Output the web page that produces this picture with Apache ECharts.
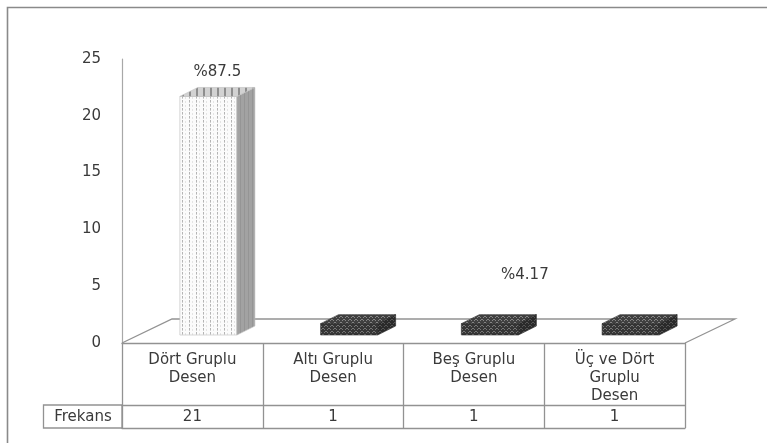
<!DOCTYPE html>
<html>
<head>
<meta charset="utf-8">
<script src="https://cdn.jsdelivr.net/npm/echarts@6/dist/echarts.min.js"></script>
<style>
  html, body { margin: 0; padding: 0; background: #fff; }
  #chart { width: 767px; height: 443px; }
</style>
</head>
<body>
<div id="chart"></div>
<script>
// Pattern groups and how often each appeared
const categories = ['Dört Gruplu\nDesen', 'Altı Gruplu\nDesen', 'Beş Gruplu\nDesen', 'Üç ve Dört\nGruplu\nDesen'];
const frequencies = [21, 1, 1, 1];
const tableRowTitle = 'Frekans';
// which bars carry a percentage label
const labelledBars = [0, 2];
const yTicks = [0, 5, 10, 15, 20, 25];

const total = frequencies.reduce((a, b) => a + b, 0);
const percentText = v => '%' + String(Math.round(v / total * 10000) / 100);

// --- drawing setup ---
const FONT = 'DejaVu Sans';
const FONT_SIZE = 15;
const TEXT = '#3a3a3a';
const LINE = '#929292';
const GRID = { left: 122, right: 82, top: 59, bottom: 100 };
const FLOOR_DEPTH = [50, -24];   // receding offset of the floor
const BAR_SHIFT = [16, -8];      // bar placement inside the floor depth
const BAR_DEPTH = [18, -9];      // thickness of each 3D bar
const BAR_WIDTH_RATIO = 0.405;
// label nudges per bar (second label is placed off to the side)
const labelNudge = { 0: [0, 0], 2: [26, -25] };

function makePattern(w, h, draw) {
  const c = document.createElement('canvas');
  c.width = w; c.height = h;
  draw(c.getContext('2d'));
  return { image: c, repeat: 'repeat' };
}

// light bar: white with dotted vertical stripes
const lightFront = makePattern(7, 4, g => {
  g.fillStyle = '#fbfbfb'; g.fillRect(0, 0, 7, 4);
  g.fillStyle = '#b4b4b4'; g.fillRect(0, 0, 1, 2);
  g.fillStyle = '#d0d0d0'; g.fillRect(0, 2, 1, 1);
  g.fillStyle = '#e4e4e4'; g.fillRect(3, 1, 1, 2);
});
const lightSide = makePattern(4, 4, g => {
  g.fillStyle = '#a2a2a2'; g.fillRect(0, 0, 4, 4);
  g.fillStyle = '#959595'; g.fillRect(0, 0, 1, 4);
});
const lightTop = makePattern(7, 4, g => {
  g.fillStyle = '#d2d2d2'; g.fillRect(0, 0, 7, 4);
  g.fillStyle = '#8e8e8e'; g.fillRect(0, 0, 2, 4);
});
// dark bars: charcoal with a honeycomb of lighter dots
function darkPattern(bg, dot) {
  return makePattern(6, 6, g => {
    g.fillStyle = bg; g.fillRect(0, 0, 6, 6);
    g.fillStyle = dot;
    g.fillRect(1, 1, 2, 1); g.fillRect(4, 4, 2, 1);
    g.fillRect(0, 2, 1, 1); g.fillRect(3, 2, 1, 1);
    g.fillRect(3, 5, 1, 1); g.fillRect(0, 5, 1, 1);
  });
}
const darkFront = darkPattern('#363636', '#767676');
const darkSide = darkPattern('#2a2a2a', '#555');
const darkTop = darkPattern('#404040', '#858585');

const barFaces = idx => idx === 0
  ? { front: lightFront, side: lightSide, top: lightTop, stroke: '#bdbdbd' }
  : { front: darkFront, side: darkSide, top: darkTop, stroke: '#2a2a2a' };

function renderFloor(params, api) {
  const band = api.size([1, 0])[0];
  const a = api.coord([0, 0]);
  const b = api.coord([categories.length - 1, 0]);
  const x0 = a[0] - band / 2, x1 = b[0] + band / 2, y = a[1];
  return {
    type: 'polyline',
    shape: { points: [[x0, y], [x0 + FLOOR_DEPTH[0], y + FLOOR_DEPTH[1]],
                      [x1 + FLOOR_DEPTH[0], y + FLOOR_DEPTH[1]], [x1, y]] },
    style: { stroke: LINE, lineWidth: 1.3, fill: null },
    silent: true
  };
}

function renderBar(params, api) {
  const idx = api.value(0);
  const v = api.value(1);
  const band = api.size([1, 0])[0];
  const base = api.coord([idx, 0]);
  const top = api.coord([idx, v]);
  const w = band * BAR_WIDTH_RATIO;
  const x0 = base[0] + BAR_SHIFT[0] - w / 2, x1 = x0 + w;
  const yb = base[1] + BAR_SHIFT[1], yt = top[1] + BAR_SHIFT[1];
  const [dx, dy] = BAR_DEPTH;
  const f = barFaces(idx);
  const children = [
    { type: 'rect', shape: { x: x0, y: yt, width: w, height: yb - yt },
      style: { fill: f.front, stroke: f.stroke, lineWidth: 0.6 } },
    { type: 'polygon', shape: { points: [[x1, yb], [x1 + dx, yb + dy], [x1 + dx, yt + dy], [x1, yt]] },
      style: { fill: f.side, stroke: f.stroke, lineWidth: 0.6 } },
    { type: 'polygon', shape: { points: [[x0, yt], [x0 + dx, yt + dy], [x1 + dx, yt + dy], [x1, yt]] },
      style: { fill: f.top, stroke: f.stroke, lineWidth: 0.6 } }
  ];
  if (labelledBars.indexOf(idx) >= 0) {
    const n = labelNudge[idx] || [0, 0];
    children.push({
      type: 'text',
      x: (x0 + x1) / 2 + dx / 2 + n[0],
      y: yt + dy - 15 + n[1],
      style: { text: percentText(v), fill: TEXT, font: FONT_SIZE + 'px "' + FONT + '"',
               align: 'center', verticalAlign: 'middle' }
    });
  }
  return { type: 'group', children };
}

const chart = echarts.init(document.getElementById('chart'), null, { renderer: 'canvas' });
chart.setOption({
  animation: false,
  backgroundColor: '#fff',
  grid: GRID,
  xAxis: [
    { type: 'category', data: categories, position: 'bottom',
      axisLine: { show: true, lineStyle: { color: LINE, width: 1.3 } },
      axisTick: { show: true, interval: 0, length: 85, lineStyle: { color: LINE, width: 1.3 } },
      axisLabel: { interval: 0, margin: 8, color: TEXT, fontFamily: FONT, fontSize: FONT_SIZE, lineHeight: 18 },
      splitLine: { show: false } },
    { type: 'category', data: categories, position: 'bottom', offset: 62,
      axisLine: { show: true, lineStyle: { color: LINE, width: 1.3 } },
      axisTick: { show: false },
      axisLabel: { interval: 0, margin: 5, color: TEXT, fontFamily: FONT, fontSize: FONT_SIZE,
                   formatter: (val, i) => String(frequencies[i]) } },
    { type: 'category', data: categories, position: 'bottom', offset: 85,
      axisLine: { show: true, lineStyle: { color: LINE, width: 1.3 } },
      axisTick: { show: false }, axisLabel: { show: false } }
  ],
  yAxis: {
    type: 'value', min: yTicks[0], max: yTicks[yTicks.length - 1], interval: yTicks[1] - yTicks[0],
    axisLine: { show: true, lineStyle: { color: '#a8a8a8', width: 1.2 } },
    axisTick: { show: false },
    splitLine: { show: false },
    axisLabel: { margin: 21, color: TEXT, fontFamily: FONT, fontSize: FONT_SIZE }
  },
  series: [
    { type: 'custom', name: 'floor', renderItem: renderFloor, data: [[0, 0]], z: 1, silent: true },
    { type: 'custom', name: tableRowTitle, renderItem: renderBar, z: 2,
      data: frequencies.map((v, i) => [i, v]) }
  ],
  graphic: [
    // chart-area frame
    { type: 'rect', shape: { x: 7.5, y: 7.5, width: 800, height: 500 },
      style: { fill: null, stroke: '#8a8a8a', lineWidth: 1.6 }, silent: true, z: 10 },
    // row title cell of the data table
    { type: 'rect', shape: { x: 43.5, y: 405, width: 122 - 43.5, height: 23 },
      style: { fill: null, stroke: LINE, lineWidth: 1.3 }, silent: true },
    { type: 'text', x: 83, y: 417,
      style: { text: tableRowTitle, fill: TEXT, font: FONT_SIZE + 'px "' + FONT + '"', align: 'center', verticalAlign: 'middle' } }
  ]
});
</script>
</body>
</html>
